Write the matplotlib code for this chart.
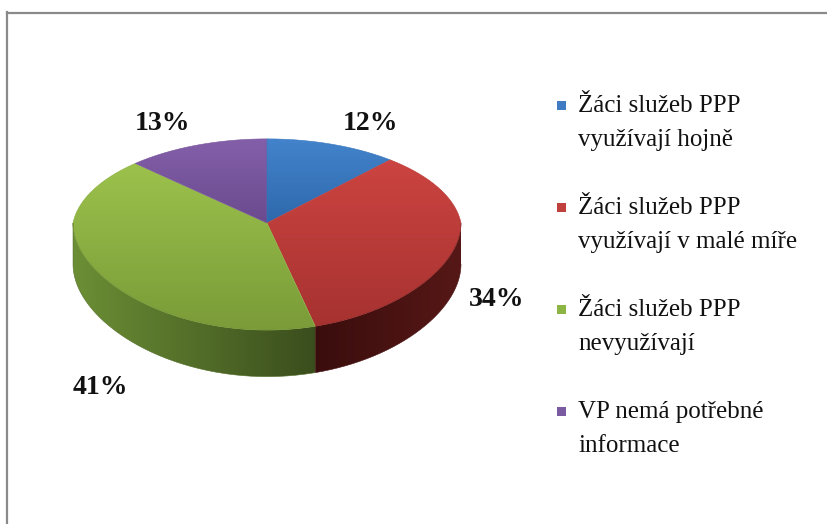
import numpy as np
import matplotlib
matplotlib.use("Agg")
import matplotlib.pyplot as plt
from matplotlib.path import Path
from matplotlib.patches import PathPatch, Rectangle
from matplotlib.lines import Line2D
from matplotlib.colors import to_rgb

# ---- data ----
labels = ["Žáci služeb PPP\nvyužívají hojně",
          "Žáci služeb PPP\nvyužívají v malé míře",
          "Žáci služeb PPP\nnevyužívají",
          "VP nemá potřebné\ninformace"]
values = [12, 34, 41, 13]
pct_labels = ["12%", "34%", "41%", "13%"]

top_colors = [("#4384CC", "#2E68AC"), ("#CC4441", "#A63230"),
              ("#9CC24C", "#7A9B38"), ("#8460AA", "#6A4A8E")]
side_colors = [("#24528A", "#1C416E"), ("#3A0D0D", "#561816"),
               ("#6C8F35", "#3A4D1D"), ("#4E3670", "#3E2A5A")]
legend_colors = ["#3F7CC4", "#C0403D", "#8DB544", "#7A5AA0"]
label_pos = [(371, 124), (497, 300), (100, 387), (163, 124)]

W, H = 828, 524
fig = plt.figure(figsize=(W / 100, H / 100), dpi=100)
ax = fig.add_axes([0, 0, 1, 1])
ax.set_xlim(0, W)
ax.set_ylim(H, 0)
ax.axis("off")

# frame (top and left lines)
ax.add_line(Line2D([7, W], [12.5, 12.5], color="#8A8A8A", lw=1.6))
ax.add_line(Line2D([7.5, 7.5], [12, H], color="#8A8A8A", lw=1.6))

# simple perspective projection of the pie disc
cx, cy = 267, 223
rx, ry, k, kx = 194, 94.2, 0.12, 0.1
depth0 = 41

def pt(a_deg, dz=0.0):
    a = np.radians(a_deg)
    c = np.cos(a)
    f = 1.0 / (1.0 + k * c)
    fx = 1.0 - kx * np.maximum(c, 0)
    x = cx + rx * np.sin(a) * fx
    y = cy - ry * c * f + dz * f
    return x, y

def grad_fill(verts, c1, c2, horizontal=False):
    path = Path(verts)
    patch = PathPatch(path, facecolor="none", edgecolor="none")
    ax.add_patch(patch)
    xs, ys = verts[:, 0], verts[:, 1]
    c1, c2 = np.array(to_rgb(c1)), np.array(to_rgb(c2))
    t = np.linspace(0, 1, 256)[:, None]
    g = c1 * (1 - t) + c2 * t
    img = g[None, :, :] if horizontal else g[:, None, :]
    im = ax.imshow(img, extent=(xs.min() - 1, xs.max() + 1, ys.max() + 1, ys.min() - 1),
                   aspect="auto", interpolation="bilinear", zorder=2)
    im.set_clip_path(patch)
    ax.add_patch(PathPatch(path, facecolor="none", edgecolor=tuple(c1 * 0.5 + c2 * 0.5),
                           lw=0.4, zorder=2.1))

total = float(sum(values))
bounds = np.concatenate([[0], np.cumsum(values) / total * 360])

# sides (front half: 90..270 degrees clockwise from top)
for i in range(len(values)):
    a0, a1 = max(bounds[i], 90), min(bounds[i + 1], 270)
    if a1 <= a0:
        continue
    aa = np.linspace(a0, a1, 160)
    xt, yt = pt(aa)
    xb, yb = pt(aa[::-1], depth0)
    verts = np.column_stack([np.concatenate([xt, xb]), np.concatenate([yt, yb])])
    grad_fill(verts, *side_colors[i], horizontal=True)

# tops
for i in range(len(values)):
    aa = np.linspace(bounds[i], bounds[i + 1], 240)
    xt, yt = pt(aa)
    verts = np.column_stack([np.concatenate([[cx], xt]), np.concatenate([[cy], yt])])
    grad_fill(verts, *top_colors[i])

# percentage labels
for (x, y), s in zip(label_pos, pct_labels):
    ax.text(x, y, s, ha="center", va="center", fontsize=20, fontweight="bold",
            family="Liberation Serif", color="#111111", zorder=5)

# legend
leg_x, leg_y0, leg_dy, line_dy = 578, 106, 102, 34
for i, lab in enumerate(labels):
    y = leg_y0 + i * leg_dy
    ax.add_patch(Rectangle((557, y - 5), 9, 9, facecolor=legend_colors[i],
                           edgecolor="none", zorder=5))
    for j, line in enumerate(lab.split("\n")):
        ax.text(leg_x, y + j * line_dy, line, ha="left", va="center", fontsize=18,
                family="Liberation Serif", color="#111111", zorder=5)

fig.savefig("out.png", dpi=100)
